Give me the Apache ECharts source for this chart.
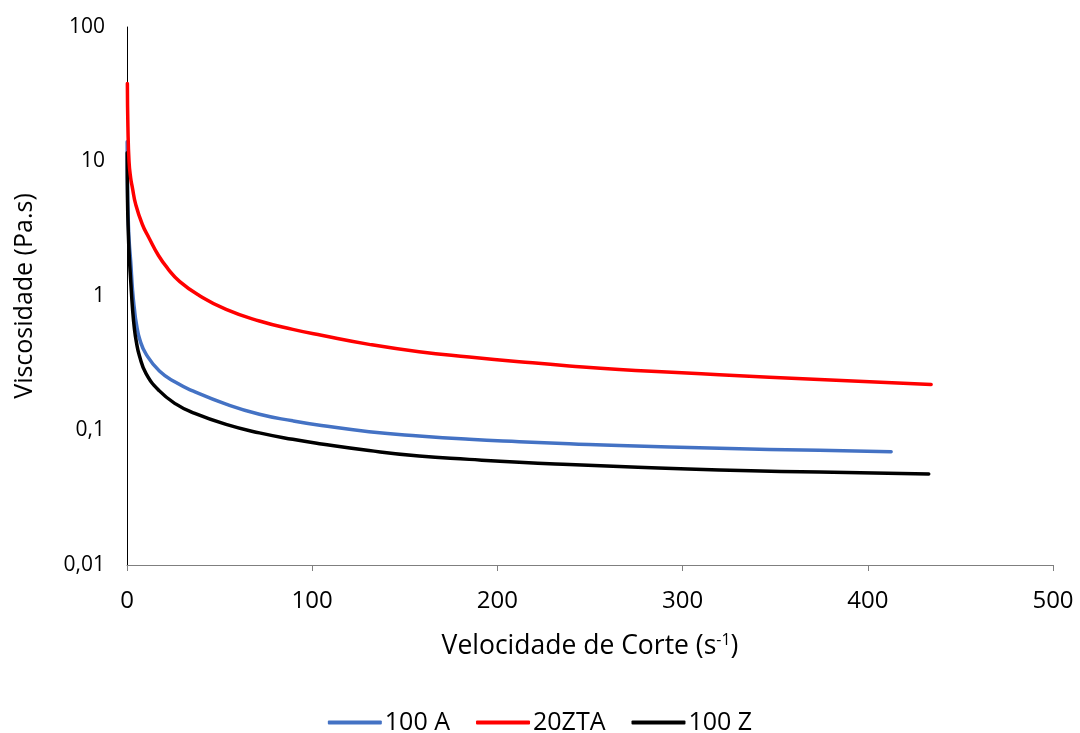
<!DOCTYPE html>
<html>
<head>
<meta charset="utf-8">
<script src="https://cdn.jsdelivr.net/npm/echarts@6/dist/echarts.min.js"></script>
<style>
  html, body { margin: 0; padding: 0; background: #fff; }
  #chart { width: 1080px; height: 733px; }
</style>
</head>
<body>
<div id="chart"></div>
<script>
// Shear rate (s^-1) vs viscosity (Pa.s) for each suspension
const seriesNames = ['100 A', '20ZTA', '100 Z'];

const rate100A = [0.1, 0.3, 0.7, 1.2, 2, 3, 4, 5, 7, 10.3, 17.5, 26.5, 35.5, 53.5, 71.5, 89.5, 105, 130.7, 157.7, 184.8, 211.8, 238.8, 265.8, 319.8, 373.8, 412.6];
const visc100A = [14, 6, 3.6, 2.5, 1.8, 1.1, 0.8, 0.63, 0.47, 0.37, 0.277, 0.227, 0.197, 0.157, 0.132, 0.118, 0.109, 0.098, 0.091, 0.086, 0.0826, 0.0798, 0.0772, 0.0737, 0.0712, 0.0696];

const rate20ZTA = [0.2, 0.5, 1.1, 2, 2.9, 4.7, 8.3, 11.9, 17, 22, 28.5, 39, 53.5, 71.5, 89.5, 105, 130.7, 157.7, 184.8, 211.8, 238.8, 265.8, 319.8, 373.8, 434.2];
const visc20ZTA = [38, 18, 10, 7.5, 6.4, 4.8, 3.4, 2.7, 2.0, 1.6, 1.28, 1.01, 0.795, 0.652, 0.565, 0.51, 0.437, 0.385, 0.352, 0.325, 0.302, 0.284, 0.26, 0.239, 0.22];

const rate100Z = [0.1, 0.3, 0.7, 1.2, 2, 3, 4, 5, 6.7, 10.3, 17.5, 26.5, 35.5, 53.5, 71.5, 89.5, 105, 130.7, 157.7, 184.8, 211.8, 238.8, 265.8, 319.8, 373.8, 432.9];
const visc100Z = [11.6, 5, 3, 2.0, 1.3, 0.8, 0.57, 0.46, 0.36, 0.265, 0.197, 0.157, 0.136, 0.111, 0.096, 0.086, 0.0795, 0.071, 0.0646, 0.061, 0.058, 0.0558, 0.054, 0.0508, 0.0491, 0.0475];

const xTicks = [0, 100, 200, 300, 400, 500];
const yTickLabels = { 0.01: '0,01', 0.1: '0,1', 1: '1', 10: '10', 100: '100' };

const colors = ['#4472C4', '#FF0000', '#000000'];
const zOrder = [2, 4, 3];

function pairs(xs, ys) { return xs.map((x, i) => [x, ys[i]]); }
const dataSets = [pairs(rate100A, visc100A), pairs(rate20ZTA, visc20ZTA), pairs(rate100Z, visc100Z)];

const font = '"Open Sans", "Liberation Sans", sans-serif';

const chart = echarts.init(document.getElementById('chart'), null, { renderer: 'canvas' });
chart.setOption({
  animation: false,
  backgroundColor: '#ffffff',
  grid: { left: 127, right: 27, top: 27, bottom: 168 },
  legend: {
    data: seriesNames,
    top: 705,
    left: 'center',
    icon: 'roundRect',
    itemWidth: 54,
    itemHeight: 4,
    itemGap: 26,
    textStyle: { fontFamily: font, fontSize: 25, color: '#000', padding: [0, 0, 0, -2] }
  },
  xAxis: {
    type: 'value',
    min: xTicks[0],
    max: xTicks[xTicks.length - 1],
    interval: 100,
    name: '{a|Velocidade de Corte (s}{s|-1}{a|)}',
    nameLocation: 'middle',
    nameGap: 67,
    nameTextStyle: {
      rich: {
        a: { fontFamily: font, fontSize: 26.5, color: '#000' },
        s: { fontFamily: font, fontSize: 16, color: '#000', verticalAlign: 'top', padding: [0, 0, 12, 0] }
      }
    },
    axisLine: { lineStyle: { color: '#7f7f7f', width: 1 } },
    axisTick: { show: true, length: 6, inside: false, lineStyle: { color: '#7f7f7f' } },
    axisLabel: { fontFamily: font, fontSize: 24, color: '#000', margin: 24 },
    splitLine: { show: false }
  },
  yAxis: {
    type: 'log',
    logBase: 10,
    min: 0.01,
    max: 100,
    name: 'Viscosidade (Pa.s)',
    nameLocation: 'middle',
    nameGap: 90,
    nameTextStyle: { fontFamily: font, fontSize: 25, color: '#000' },
    axisLine: { show: true, lineStyle: { color: '#000', width: 1 } },
    axisTick: { show: false },
    axisLabel: {
      fontFamily: font, fontSize: 21, color: '#000', margin: 22,
      formatter: v => {
        const key = Object.keys(yTickLabels).find(k => Math.abs(parseFloat(k) - v) / v < 1e-6);
        return key ? yTickLabels[key] : '';
      }
    },
    splitLine: { show: false }
  },
  series: seriesNames.map((name, i) => ({
    name,
    type: 'line',
    data: dataSets[i],
    smooth: 0.5,
    symbol: 'none',
    z: zOrder[i],
    itemStyle: { color: colors[i] },
    lineStyle: { color: colors[i], width: 3.5, cap: 'round', join: 'round' }
  }))
});
</script>
</body>
</html>
